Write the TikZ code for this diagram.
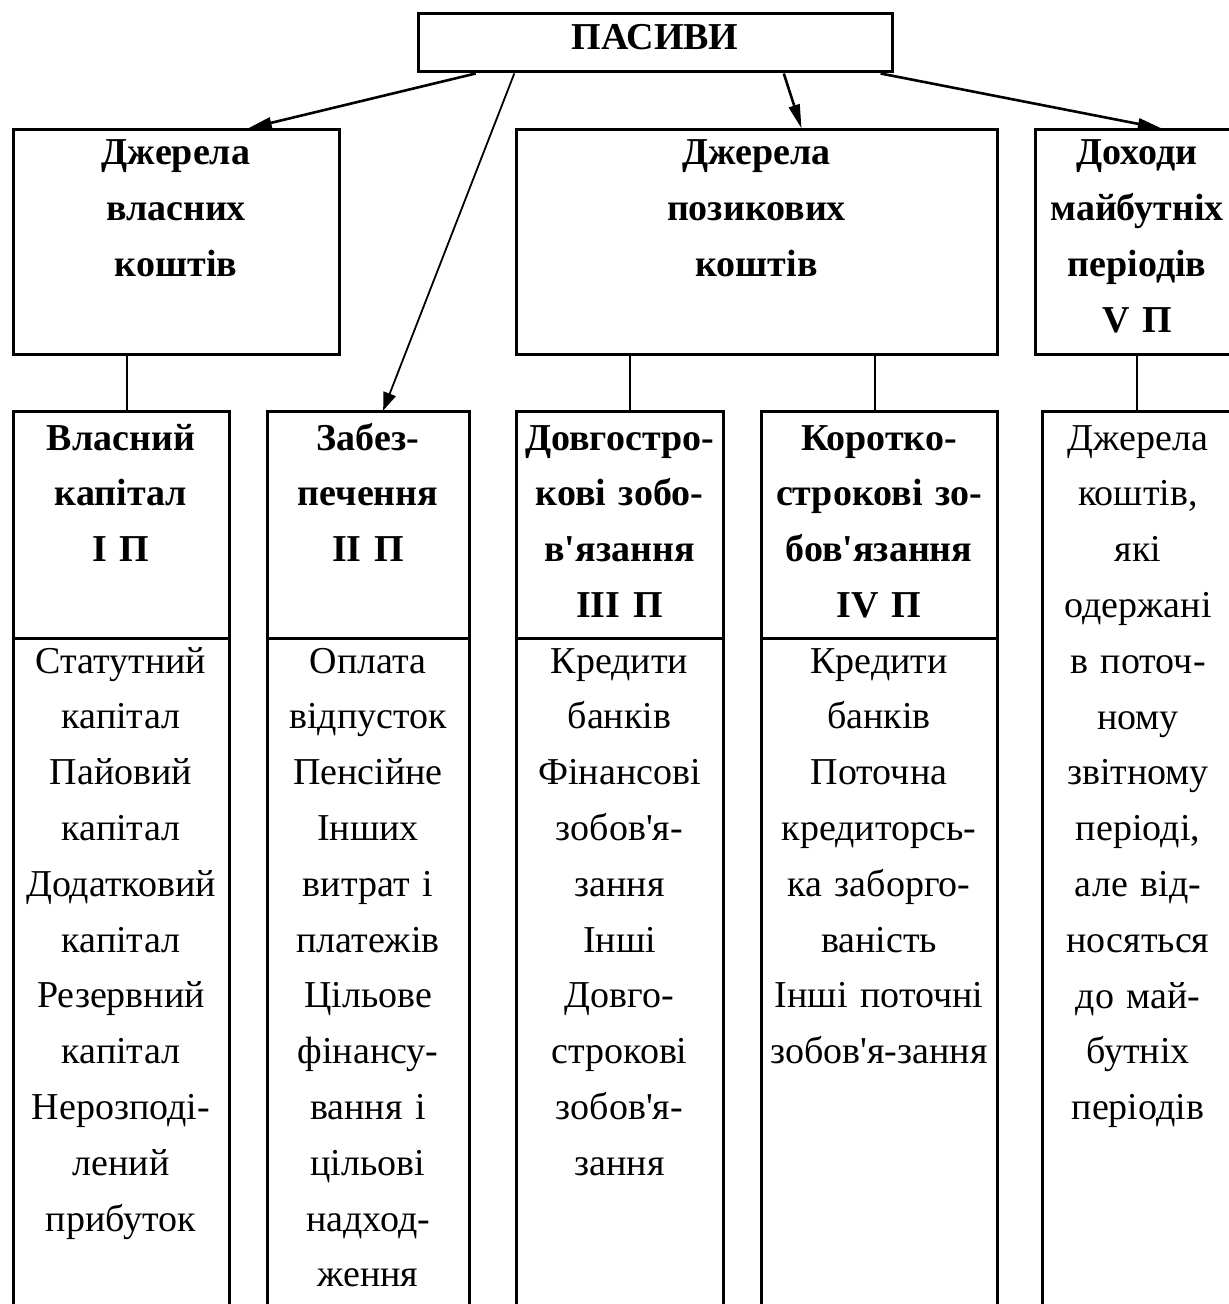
\documentclass[tikz,border=0pt]{standalone}
\usepackage{fontspec}
\setmainfont{Liberation Serif}[Ligatures=TeXOff]
\usetikzlibrary{calc,arrows.meta}

\begin{document}
\begin{tikzpicture}[x=0.5pt, y=-0.5pt,
    box/.style={draw, line width=1.5pt, inner sep=0pt},
    txt/.style={anchor=base, align=center, inner sep=0pt, font=\fontsize{19}{27.9}\selectfont},
    head/.style={txt, font=\fontsize{19}{27.9}\selectfont\bfseries},
    link/.style={line width=1.3pt, -{Triangle[length=12pt,width=5.5pt]}}]
    \useasboundingbox (0,0) rectangle (1229,1304);
    \clip (0,0) rectangle (1229,1304);
    % Upper boxes
    \node[box, minimum width=237pt, minimum height=29pt] (pasyvy) at (655,43) {};
    \node[box, minimum width=163pt, minimum height=112.5pt] (vlasni) at (176,242.5) {};
    \node[box, minimum width=240.5pt, minimum height=112.5pt] (pozyk) at (756.5,242.5) {};
    \node[box, minimum width=102pt, minimum height=112.5pt] (dokhody) at (1137,242.5) {};
    \node[head] (tpasyvy) at (655,50) {ПАСИВИ};
    \node[head, text width=160pt] (tvlasni) at (176,165) {Джерела\\власних\\коштів};
    \node[head, text width=235pt] (tpozyk) at (756.5,165) {Джерела\\позикових\\коштів};
    \node[head, text width=100pt] (tdokhody) at (1137,165) {Доходи\\майбутніх\\періодів\\V П};
    % Columns
    \node[box, minimum width=108pt, minimum height=459pt] (c1) at (121,871) {};
    \node[box, minimum width=101pt, minimum height=459pt] (c2) at (368,871) {};
    \node[box, minimum width=103.5pt, minimum height=459pt] (c3) at (619.5,871) {};
    \node[box, minimum width=118pt, minimum height=459pt] (c4) at (879,871) {};
    \node[box, minimum width=96pt, minimum height=459pt] (c5) at (1138,871) {};
    \coordinate (cut) at (0,638);
    \foreach \c in {c1,c2,c3,c4}
        \draw[line width=1.5pt] (\c.west |- cut) -- (\c.east |- cut);
    % Column headings
    \node[head, text width=106pt] (h1) at (121,450) {Власний\\капітал\\I П};
    \node[head, text width=100pt] (h2) at (368,450) {Забез-\\печення\\II П};
    \node[head, text width=103pt] (h3) at (619.5,450) {Довгостро-\\кові зобо-\\в'язання\\III П};
    \node[head, text width=117pt] (h4) at (879,450) {Коротко-\\строкові зо-\\бов'язання\\IV П};
    % Column items
    \node[txt, text width=106pt] (b1) at (121,673) {Статутний\\капітал\\Пайовий\\капітал\\Додатковий\\капітал\\Резервний\\капітал\\Нерозподі-\\лений\\прибуток};
    \node[txt, text width=100pt] (b2) at (368,673) {Оплата\\відпусток\\Пенсійне\\Інших\\витрат і\\платежів\\Цільове\\фінансу-\\вання і\\цільові\\надход-\\ження};
    \node[txt, text width=103pt] (b3) at (619.5,673) {Кредити\\банків\\Фінансові\\зобов'я-\\зання\\Інші\\Довго-\\строкові\\зобов'я-\\зання};
    \node[txt, text width=117pt] (b4) at (879,673) {Кредити\\банків\\Поточна\\кредиторсь-\\ка заборго-\\ваність\\Інші поточні\\зобов'я-зання};
    \node[txt, text width=95pt] (b5) at (1138,450) {Джерела\\коштів,\\які\\одержані\\в поточ-\\ному\\звітному\\періоді,\\але від-\\носяться\\до май-\\бутніх\\періодів};
    % Arrows from the top
    \draw[link] ($(pasyvy.south west)!.124!(pasyvy.south east)$) -- ($(vlasni.north west)!.718!(vlasni.north east)$);
    \draw[link, line width=0.9pt, -{Triangle[length=9pt,width=6.5pt]}] ($(pasyvy.south west)!.205!(pasyvy.south east)$) -- ($(c2.north west)!.574!(c2.north east)$);
    \draw[link] ($(pasyvy.south west)!.77!(pasyvy.south east)$) -- ($(pozyk.north west)!.593!(pozyk.north east)$);
    \draw[link] ($(pasyvy.south west)!.973!(pasyvy.south east)$) -- ($(dokhody.north west)!.62!(dokhody.north east)$);
    % Links down
    \coordinate (v1) at ($(vlasni.south west)!.35!(vlasni.south east)$);
    \coordinate (v3) at ($(pozyk.south west)!.239!(pozyk.south east)$);
    \coordinate (v4) at ($(pozyk.south west)!.744!(pozyk.south east)$);
    \draw[line width=1pt] (v1) -- (v1 |- c1.north);
    \draw[line width=1pt] (v3) -- (v3 |- c3.north);
    \draw[line width=1pt] (v4) -- (v4 |- c4.north);
    \draw[line width=1pt] (dokhody.south) -- (dokhody.south |- c5.north);
\end{tikzpicture}
\end{document}
